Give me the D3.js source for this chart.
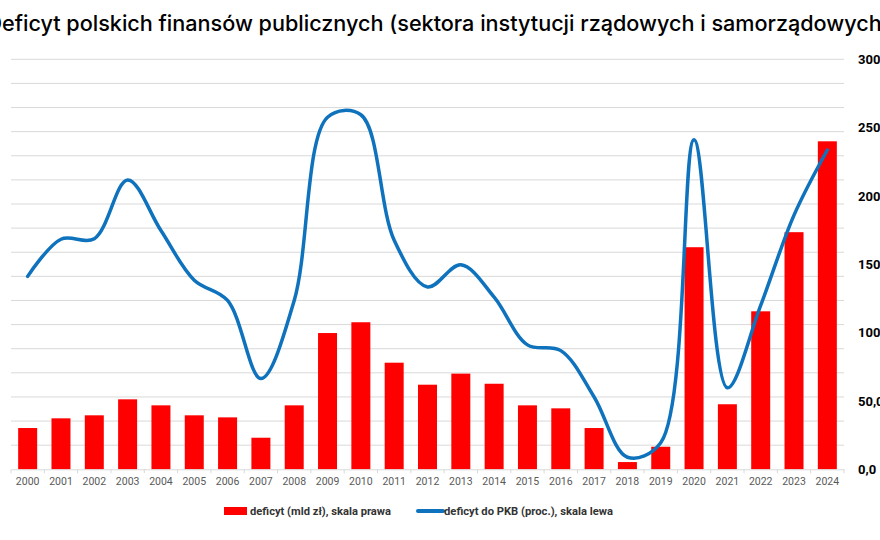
<!DOCTYPE html>
<html>
<head>
<meta charset="utf-8">
<script src="https://cdn.jsdelivr.net/npm/d3@7"></script>
<style>
  body { margin: 0; background: #fff; }
  svg { display: block; }
</style>
</head>
<body>
<div id="chart"></div>
<script>
// data
var years = ["2000","2001","2002","2003","2004","2005","2006","2007","2008","2009","2010","2011","2012",
             "2013","2014","2015","2016","2017","2018","2019","2020","2021","2022","2023","2024"];
// deficyt w mld zl (prawa skala)
var deficitBn = [30.2, 37.3, 39.5, 51.2, 46.8, 39.5, 38.0, 23.1, 46.8, 99.7, 107.6, 78.0, 61.9,
                 70.0, 62.6, 46.8, 44.6, 30.2, 5.3, 16.5, 162.5, 47.6, 115.6, 173.5, 240.0];
// deficyt do PKB w proc. (lewa skala)
var deficitPct = [4.0, 4.77, 4.78, 6.0, 4.95, 3.92, 3.5, 1.88, 3.5, 7.3, 7.35, 4.75, 3.78,
                  4.24, 3.57, 2.58, 2.46, 1.5, 0.25, 0.55, 6.83, 1.69, 3.4, 5.27, 6.62];
var rightTicks = [0, 50, 100, 150, 200, 250, 300];
var leftTicks = d3.range(0.5, 8.51, 0.5);

var titleText = "Deficyt polskich finansów publicznych (sektora instytucji rządowych i samorządowych)";
var legendBars = "deficyt (mld zł), skala prawa";
var legendLine = "deficyt do PKB (proc.), skala lewa";

var svgWidth = 880, svgHeight = 540;

var svg = d3.select("#chart").append("svg")
  .attr("width", svgWidth)
  .attr("height", svgHeight);

// plot area
var plot = { left: 11, right: 844, top: 59.3, bottom: 469.3 };

var xScale = d3.scaleBand()
  .domain(years)
  .range([plot.left, plot.right])
  .paddingInner(0.43)
  .paddingOuter(0.215);

var yLeft = d3.scaleLinear().domain([0, 8.5]).range([plot.bottom, plot.top]);
var yRight = d3.scaleLinear().domain([0, 300]).range([plot.bottom, plot.top]);

// gridlines (left scale, every 0.5)
svg.append("g")
  .selectAll("line")
  .data(leftTicks)
  .enter()
  .append("line")
  .attr("x1", plot.left)
  .attr("x2", plot.right)
  .attr("y1", d => yLeft(d))
  .attr("y2", d => yLeft(d))
  .attr("stroke", "#d9d9d9")
  .attr("stroke-width", 1);

// bars
svg.append("g")
  .selectAll("rect")
  .data(years)
  .enter()
  .append("rect")
  .attr("x", d => xScale(d))
  .attr("width", xScale.bandwidth())
  .attr("y", (d, i) => yRight(deficitBn[i]))
  .attr("height", (d, i) => yRight(0) - yRight(deficitBn[i]))
  .attr("fill", "#ff0000");

// x axis
var xAxis = d3.axisBottom(xScale).tickSize(0).tickPadding(8);
var xAxisGroup = svg.append("g")
  .attr("transform", `translate(0, ${plot.bottom})`)
  .call(xAxis);
xAxisGroup.select(".domain").attr("stroke", "#d9d9d9");
xAxisGroup.selectAll("text")
  .attr("font-family", "Roboto, 'Open Sans', sans-serif")
  .attr("font-size", 10.5)
  .attr("fill", "#595959");

// small ticks between categories
var step = xScale.step();
svg.append("g")
  .selectAll("line")
  .data(d3.range(years.length + 1))
  .enter()
  .append("line")
  .attr("x1", d => plot.left + d * step)
  .attr("x2", d => plot.left + d * step)
  .attr("y1", plot.bottom)
  .attr("y2", plot.bottom + 4)
  .attr("stroke", "#d9d9d9");

// right axis labels (cut at the right edge, as in the source)
var fmt = d => d3.format(".1f")(d).replace(".", ",");
var yAxis = d3.axisRight(yRight).tickValues(rightTicks).tickFormat(fmt).tickSize(0).tickPadding(0);
var yAxisGroup = svg.append("g")
  .attr("transform", "translate(858, 0)")
  .call(yAxis);
yAxisGroup.select(".domain").remove();
yAxisGroup.selectAll("text")
  .attr("font-family", "Roboto, 'Open Sans', sans-serif")
  .attr("font-weight", "bold")
  .attr("font-size", 13)
  .attr("fill", "#000");

// line
var line = d3.line()
  .x((d, i) => xScale(years[i]) + xScale.bandwidth() / 2)
  .y(d => yLeft(d))
  .curve(d3.curveCatmullRom.alpha(0.5));

svg.append("path")
  .datum(deficitPct)
  .attr("d", line)
  .attr("fill", "none")
  .attr("stroke", "#0f72bd")
  .attr("stroke-width", 3.5)
  .attr("stroke-linejoin", "round")
  .attr("stroke-linecap", "round");

// title - left edge is cut like in the reference
var title = svg.append("text")
  .attr("y", 31)
  .attr("font-family", "Inter, 'Noto Sans', sans-serif")
  .attr("font-weight", 500)
  .attr("font-size", 20)
  .attr("fill", "#000")
  .text(titleText);
var node = title.node();
var n = titleText.length;
var inner = node.getSubStringLength(1, n - 2);
title.attr("font-size", 20 * 880 / inner);
var dW = node.getSubStringLength(0, 1);
title.attr("x", 2 - dW);

// legend
var legend = svg.append("g").attr("font-family", "Roboto, 'Open Sans', sans-serif")
  .attr("font-weight", "bold")
  .attr("font-size", 11.5)
  .attr("fill", "#333");

legend.append("rect")
  .attr("x", 224).attr("y", 507)
  .attr("width", 23).attr("height", 8)
  .attr("fill", "#ff0000");
legend.append("text")
  .attr("x", 250).attr("y", 515)
  .attr("textLength", 141)
  .attr("lengthAdjust", "spacingAndGlyphs")
  .text(legendBars);

legend.append("line")
  .attr("x1", 418).attr("x2", 443)
  .attr("y1", 511).attr("y2", 511)
  .attr("stroke", "#0f72bd")
  .attr("stroke-width", 4)
  .attr("stroke-linecap", "round");
legend.append("text")
  .attr("x", 444).attr("y", 515)
  .attr("textLength", 169)
  .attr("lengthAdjust", "spacingAndGlyphs")
  .text(legendLine);
</script>
</body>
</html>
